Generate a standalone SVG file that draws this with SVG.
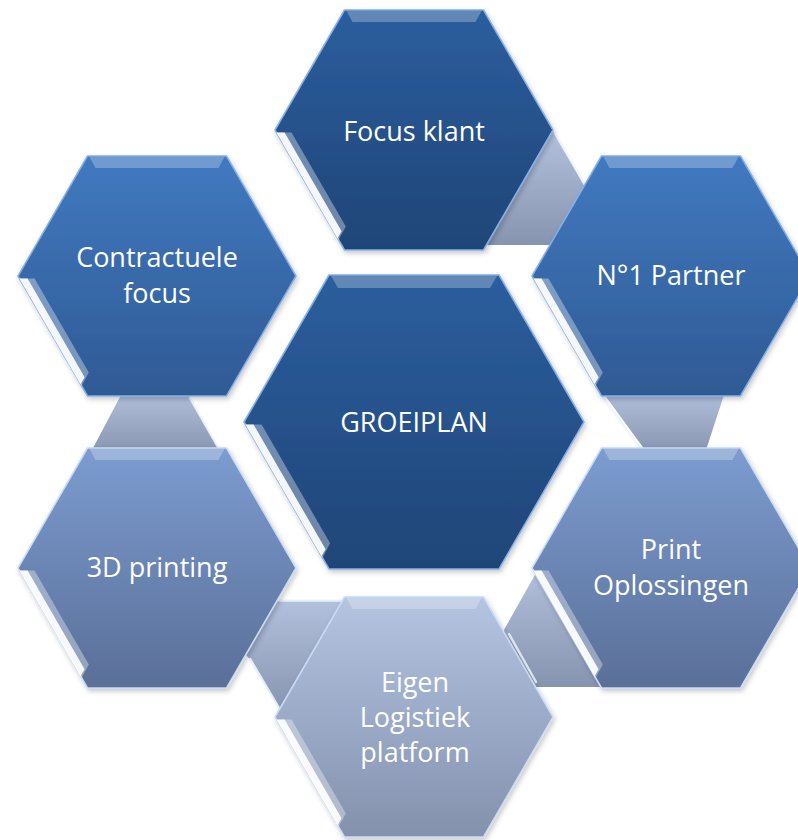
<svg xmlns="http://www.w3.org/2000/svg" width="798" height="840" viewBox="0 0 798 840">
  <defs>
    <linearGradient id="gDark" x1="0" y1="0" x2="0" y2="1">
      <stop offset="0" stop-color="#2c5e9e"/>
      <stop offset="1" stop-color="#1f4577"/>
    </linearGradient>
    <linearGradient id="gMid" x1="0" y1="0" x2="0" y2="1">
      <stop offset="0" stop-color="#4179c0"/>
      <stop offset="1" stop-color="#2f5a94"/>
    </linearGradient>
    <linearGradient id="gLight" x1="0" y1="0" x2="0" y2="1">
      <stop offset="0" stop-color="#7c9cd0"/>
      <stop offset="1" stop-color="#5a6f98"/>
    </linearGradient>
    <linearGradient id="gLighter" x1="0" y1="0" x2="0" y2="1">
      <stop offset="0" stop-color="#b4c4e1"/>
      <stop offset="1" stop-color="#8391ad"/>
    </linearGradient>
    <linearGradient id="gConn" x1="0" y1="0" x2="0" y2="1">
      <stop offset="0" stop-color="#b3c1de"/>
      <stop offset="1" stop-color="#8794af"/>
    </linearGradient>
    <filter id="shadow" x="-10%" y="-10%" width="125%" height="125%">
      <feDropShadow dx="1.5" dy="2.5" stdDeviation="2.5" flood-color="#000" flood-opacity="0.22"/>
    </filter>
  </defs>
  <style>
    .hex { filter: url(#shadow); stroke: #86b0e6; stroke-width: 1.5; stroke-linejoin: round; }
    .hexl { filter: url(#shadow); stroke: #c9dcf6; stroke-width: 1.5; stroke-linejoin: round; }
    .conn { fill: url(#gConn); }
    .band { fill: #ffffff; fill-opacity: 0.26; }
    .sw { fill: #ffffff; fill-opacity: 0.35; }
    .sn { fill: #ffffff; fill-opacity: 0.92; }
    .hl { stroke: #eef5ff; stroke-width: 2.5; fill: none; stroke-linecap: round; opacity: 0.9; }
    .t { font-family: "Open Sans", "Noto Sans", sans-serif; font-size: 27px; fill: #ffffff; text-anchor: middle; }
  </style>
  <rect width="798" height="840" fill="#ffffff"/>

  <g id="connectors">
    <polygon class="conn" points="553,131 600,212 570,245 480,245 500,200"/>
    <line class="hl" x1="555" y1="133" x2="588" y2="190"/>
    <polygon class="conn" points="601,390 725.6,390 704.4,455 648.7,455"/>
    <line class="hl" x1="603" y1="398" x2="640" y2="448"/>
    <polygon class="conn" points="540,566 505,628 500,640 530,687 610,687 560,600"/>
    <line class="hl" x1="509" y1="634" x2="536" y2="682"/>
    <polygon class="conn" points="270,600 360,600 300,700 281,712 248,657 240,650"/>
    <line class="hl" x1="279" y1="600.5" x2="342" y2="600.5" stroke-width="1.5"/>
    <line class="hl" x1="250" y1="659" x2="280" y2="710"/>
    <polygon class="conn" points="123.7,390 186,390 222,455 89.3,455"/>
    <line class="hl" x1="190" y1="398" x2="218" y2="447" stroke-width="1.8"/>
  </g>

  <g id="node-focus-klant">
    <polygon class="hex" fill="url(#gDark)" points="275,130 344.5,10 483.5,10 553,130 483.5,250 344.5,250"/>
    <polygon class="band" points="346.5,11 481.5,11 475.5,22 352.5,22"/>
    <polygon class="sw" points="276.5,132.6 338.5,240 345.8,226.6 291.5,132.6"/>
    <polygon class="sn" points="276.5,132.6 337.5,238.25 341.6,231.3 284.6,132.6"/>
    <text class="t" x="414" y="141">Focus klant</text>
  </g>

  <g id="node-contractuele-focus">
    <polygon class="hex" fill="url(#gMid)" points="18,276 87.5,156 226.5,156 296,276 226.5,396 87.5,396"/>
    <polygon class="band" points="89.5,157 224.5,157 218.5,168 95.5,168"/>
    <polygon class="sw" points="19.5,278.6 81.5,386 88.8,372.6 34.5,278.6"/>
    <polygon class="sn" points="19.5,278.6 80.5,384.25 84.6,377.3 27.6,278.6"/>
    <text class="t" x="157" y="267">Contractuele</text>
    <text class="t" x="157" y="303">focus</text>
  </g>

  <g id="node-n1-partner">
    <polygon class="hex" fill="url(#gMid)" points="532,276 601.5,156 740.5,156 810,276 740.5,396 601.5,396"/>
    <polygon class="band" points="603.5,157 738.5,157 732.5,168 609.5,168"/>
    <polygon class="sw" points="533.5,278.6 595.5,386 602.8,372.6 548.5,278.6"/>
    <polygon class="sn" points="533.5,278.6 594.5,384.25 598.6,377.3 541.6,278.6"/>
    <text class="t" x="671" y="285">N°1 Partner</text>
  </g>

  <g id="node-groeiplan">
    <polygon class="hex" fill="url(#gDark)" points="244,422 329,275 499,275 584,422 499,569 329,569"/>
    <polygon class="band" points="331,276 497,276 490,288 338,288"/>
    <polygon class="sw" points="245.5,424.6 322.5,558 330.1,543.2 261.6,424.6"/>
    <polygon class="sn" points="245.5,424.6 321.5,556.2 325.6,549.3 253.6,424.6"/>
    <text class="t" x="414" y="432">GROEIPLAN</text>
  </g>

  <g id="node-3d-printing">
    <polygon class="hexl" fill="url(#gLight)" points="18,568 87.5,448 226.5,448 296,568 226.5,688 87.5,688"/>
    <polygon class="band" points="89.5,449 224.5,449 218.5,460 95.5,460"/>
    <polygon class="sw" points="19.5,570.6 81.5,678 88.8,664.6 34.5,570.6"/>
    <polygon class="sn" points="19.5,570.6 80.5,676.25 84.6,669.3 27.6,570.6"/>
    <text class="t" x="157" y="577">3D printing</text>
  </g>

  <g id="node-print-oplossingen">
    <polygon class="hexl" fill="url(#gLight)" points="532,568 601.5,448 740.5,448 810,568 740.5,688 601.5,688"/>
    <polygon class="band" points="603.5,449 738.5,449 732.5,460 609.5,460"/>
    <polygon class="sw" points="533.5,570.6 595.5,678 602.8,664.6 548.5,570.6"/>
    <polygon class="sn" points="533.5,570.6 594.5,676.25 598.6,669.3 541.6,570.6"/>
    <text class="t" x="671" y="559">Print</text>
    <text class="t" x="671" y="595">Oplossingen</text>
  </g>

  <g id="node-eigen-logistiek-platform">
    <polygon class="hexl" fill="url(#gLighter)" points="275,717 344.5,597 483.5,597 553,717 483.5,837 344.5,837"/>
    <polygon class="band" points="346.5,598 481.5,598 475.5,609 352.5,609"/>
    <polygon class="sw" points="276.5,719.6 338.5,827 345.8,813.6 291.5,719.6"/>
    <polygon class="sn" points="276.5,719.6 337.5,825.25 341.6,818.3 284.6,719.6"/>
    <text class="t" x="415" y="692">Eigen</text>
    <text class="t" x="415" y="727">Logistiek</text>
    <text class="t" x="415" y="762">platform</text>
  </g>
</svg>
